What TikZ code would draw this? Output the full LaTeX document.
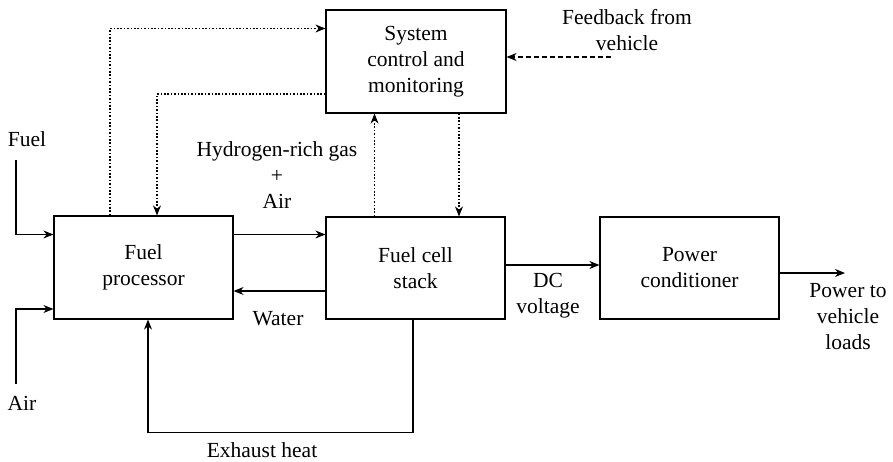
\documentclass[tikz,border=0pt]{standalone}
\usepackage{fontspec}
\setmainfont{Liberation Serif}
\usetikzlibrary{arrows.meta,calc}
\begin{document}
\begin{tikzpicture}[x=1pt,y=-1pt,
  font=\fontsize{21.5}{26}\selectfont,
  box/.style={draw, line width=1.2pt, align=center, inner sep=0pt},
  lbl/.style={align=center, inner sep=0pt},
  arr/.style={line width=1.2pt, -{Stealth[length=10pt,width=8pt]}},
  dotarr/.style={line width=1.1pt, dash pattern=on 1.6pt off 1.8pt, -{Stealth[length=10pt,width=8pt]}},
  dasharr/.style={line width=1.1pt, dash pattern=on 5pt off 3pt, -{Stealth[length=10pt,width=8pt]}}]
\useasboundingbox (0,0) rectangle (893,461);
\node[box, minimum width=180pt, minimum height=103pt] (ctrl) at (416,61.5) {System\\control and\\monitoring};
\node[box, minimum width=179pt, minimum height=103pt] (fp) at (143.5,267.5) {Fuel\\processor};
\node[box, minimum width=179pt, minimum height=102pt] (fcs) at (415.5,268) {Fuel cell\\stack};
\node[box, minimum width=179pt, minimum height=102pt] (pc) at (689.5,268) {Power\\conditioner};
\coordinate (fuelin) at (16,160);
\coordinate (airin) at (16,384);
\coordinate (fb) at (611,57);
\coordinate (out) at (845,273);
\draw[arr] (fuelin) |- ([yshift=33pt]fp.west);
\draw[arr] (airin) |- ([yshift=-41.5pt]fp.west);
\draw[arr] ([yshift=33pt]fp.east) -- ([yshift=33pt]fp.east -| fcs.west);
\draw[arr] ([yshift=-23pt]fcs.west) -- ([yshift=-23pt]fcs.west -| fp.east);
\draw[arr] ([xshift=-2.5pt]fcs.south) -- ++(0,113) -| ([xshift=4.5pt]fp.south);
\draw[arr] ([yshift=3pt]fcs.east) -- ([yshift=3pt]fcs.east -| pc.west);
\draw[arr] ([yshift=-5pt]pc.east) -- (out);
\draw[dotarr] ([xshift=-33.5pt]fp.north) |- ([yshift=33pt]ctrl.west);
\draw[dotarr] ([yshift=-32.5pt]ctrl.west) -| ([xshift=13.5pt]fp.north);
\draw[dotarr] ([xshift=-41pt]fcs.north) -- ([xshift=-41pt]fcs.north |- ctrl.south);
\draw[dotarr] ([xshift=43pt]ctrl.south) -- ([xshift=43pt]ctrl.south |- fcs.north);
\draw[dasharr] (fb) -- (fb -| ctrl.east);
\node[lbl] (lfuel) at (27,139) {Fuel};
\node[lbl] (lair) at (22,403) {Air};
\node[lbl] (lh2) at (277,175) {Hydrogen-rich gas\\+\\Air};
\node[lbl] (lwater) at (278,319) {Water};
\node[lbl] (lexh) at (262,450) {Exhaust heat};
\node[lbl] (lfb) at (627,30.5) {Feedback from\\vehicle};
\node[lbl] (ldc) at (548,296) {DC\\voltage};
\node[lbl] (lout) at (848,317) {Power to\\vehicle\\loads};
\end{tikzpicture}
\end{document}
